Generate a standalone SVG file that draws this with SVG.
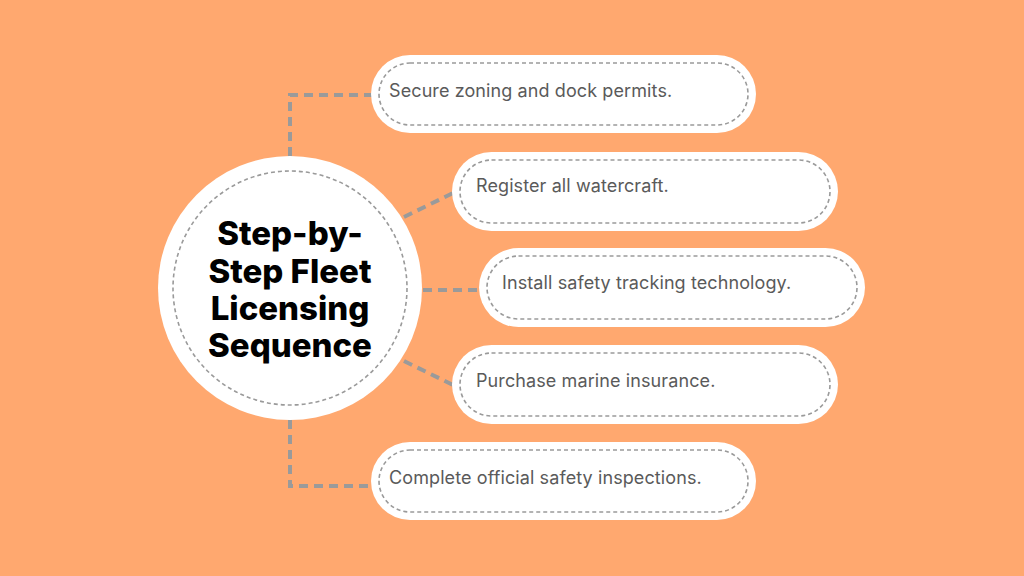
<svg xmlns="http://www.w3.org/2000/svg" width="1024" height="576" viewBox="0 0 1024 576">
<style>
.bg{fill:#FFA86F}
.box{fill:#fff}
.inner{fill:none;stroke:#9a9a9a;stroke-width:1.6;stroke-dasharray:4 3}
.conn{fill:none;stroke:#9a9a9a;stroke-width:4;stroke-dasharray:9 6}
.lbl{font-family:Inter,"Noto Sans",sans-serif;font-size:18px;fill:#5a5a5a;letter-spacing:0.1px}
.title{font-family:Inter,"Noto Sans",sans-serif;font-size:33px;font-weight:800;fill:#000;text-anchor:middle}
</style>
<rect class="bg" x="0" y="0" width="1024" height="576"/>
<g id="connectors">
<path class="conn" d="M290 156 V95 H372"/>
<path class="conn" d="M290 420 V486 H372"/>
<path class="conn" d="M404 217 L453 193"/>
<path class="conn" d="M423 290 H480"/>
<path class="conn" d="M404 361 L453 385"/>
</g>
<g id="center">
<circle cx="290" cy="288" r="132" fill="#fff"/>
<circle cx="290" cy="288" r="117" class="inner"/>
<text class="title" x="290" y="245">Step-by-</text>
<text class="title" x="290" y="283">Step Fleet</text>
<text class="title" x="290" y="320">Licensing</text>
<text class="title" x="290" y="357">Sequence</text>
</g>
<g id="step1">
<rect class="box" x="371" y="55" width="385" height="78" rx="39"/>
<rect class="inner" x="379" y="63" width="369" height="62" rx="31"/>
<text class="lbl" x="389" y="97">Secure zoning and dock permits.</text>
</g>
<g id="step2">
<rect class="box" x="452" y="152" width="386" height="79" rx="39.5"/>
<rect class="inner" x="460" y="160" width="370" height="63" rx="31.5"/>
<text class="lbl" x="476" y="192">Register all watercraft.</text>
</g>
<g id="step3">
<rect class="box" x="479" y="248" width="386" height="79" rx="39.5"/>
<rect class="inner" x="487" y="256" width="370" height="63" rx="31.5"/>
<text class="lbl" x="502" y="289">Install safety tracking technology.</text>
</g>
<g id="step4">
<rect class="box" x="452" y="345" width="386" height="79" rx="39.5"/>
<rect class="inner" x="460" y="353" width="370" height="63" rx="31.5"/>
<text class="lbl" x="476" y="387">Purchase marine insurance.</text>
</g>
<g id="step5">
<rect class="box" x="371" y="442" width="385" height="78" rx="39"/>
<rect class="inner" x="379" y="450" width="369" height="62" rx="31"/>
<text class="lbl" x="389" y="484">Complete official safety inspections.</text>
</g>
</svg>
